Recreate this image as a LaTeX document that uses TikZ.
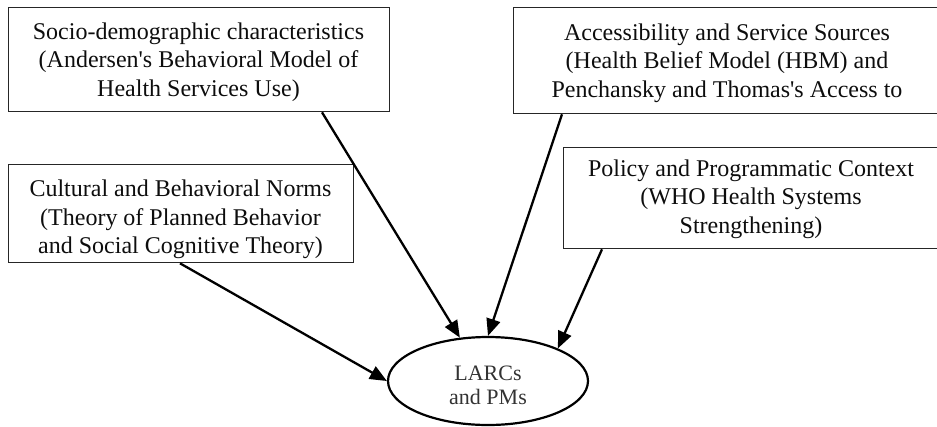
\documentclass[tikz,border=0pt]{standalone}
\usepackage{fontspec}
\setmainfont{Liberation Serif}
\usetikzlibrary{arrows.meta,calc,shapes.geometric}
\begin{document}
\begin{tikzpicture}[x=1pt,y=-1pt,
  box/.style={draw=black!85,line width=1.3pt,rectangle,inner sep=0pt,anchor=north west},
  boxtext/.style={anchor=north,inner sep=0pt,align=center,text=black!95,font=\fontsize{24}{28.5}\selectfont},
  ovaltext/.style={anchor=north,inner sep=0pt,align=center,text=black!80,font=\fontsize{22}{24}\selectfont},
  arr/.style={line width=2.3pt,-{Triangle[length=17pt,width=14pt]}}]
\useasboundingbox (0,0) rectangle (937,426);
% boxes
\node[box,minimum width=381pt,minimum height=104pt] (soc) at (8,7) {};
\node[box,minimum width=432pt,minimum height=106pt] (acc) at (513,7) {};
\node[box,minimum width=345pt,minimum height=98pt] (cult) at (8,164) {};
\node[box,minimum width=382pt,minimum height=101pt] (pol) at (563,147) {};
% texts
\node[boxtext] (soctext) at (198.5,22.6) {Socio-demographic characteristics\\(Andersen\textquotesingle s Behavioral Model of\\Health Services Use)};
\node[boxtext] (acctext) at (727,23.6) {Accessibility and Service Sources\\(Health Belief Model (HBM) and\\Penchansky and Thomas\textquotesingle s Access to};
\begin{scope}
\clip (cult.north west) rectangle (cult.south east);
\node[boxtext] (culttext) at (180.5,180) {Cultural and Behavioral Norms\\(Theory of Planned Behavior\\and Social Cognitive Theory)};
\end{scope}
\node[boxtext] (poltext) at (751,159.6) {Policy and Programmatic Context\\(WHO Health Systems\\Strengthening)};
% ellipse
\node[draw=black,line width=2.2pt,ellipse,minimum width=200pt,minimum height=88pt,inner sep=0pt] (larc) at (488,381) {};
\node[ovaltext] (larctext) at (488,365.4) {LARCs\\and PMs};
% arrows
\coordinate (s1) at ($(soc.south west)+(314,0)$);
\coordinate (s2) at ($(acc.south west)+(49,0)$);
\coordinate (s3) at ($(cult.south west)+(172,0)$);
\coordinate (s4) at ($(pol.south west)+(39,0)$);
\draw[arr] (s1) -- (larc.123);
\draw[arr] (s2) -- (larc.north);
\draw[arr] (s3) -- (larc.west);
\draw[arr] (s4) -- (larc.25);
\end{tikzpicture}
\end{document}
